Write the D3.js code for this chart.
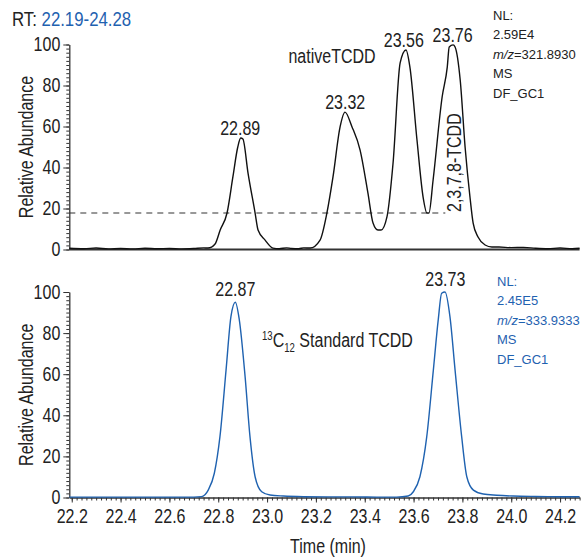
<!DOCTYPE html>
<html>
<head>
<meta charset="utf-8">
<script src="https://cdn.jsdelivr.net/npm/d3@7"></script>
<style>
  body { margin: 0; background: #fff; }
  svg text { font-family: "Liberation Sans", Arial, sans-serif; fill: #222; }
  .note { font-size: 13px; }
</style>
</head>
<body>
<svg id="chart" width="581" height="558"></svg>
<script>
// native TCDD trace (m/z 321.8930)
const nativeTime = [22.19, 22.25, 22.30, 22.35, 22.40, 22.45, 22.50, 22.55, 22.60, 22.65, 22.70, 22.74,
  22.758, 22.787, 22.808, 22.836, 22.860, 22.880, 22.892, 22.901, 22.922, 22.951, 22.963, 22.992, 23.024,
  23.05, 23.08, 23.10, 23.13, 23.15, 23.176, 23.217, 23.245, 23.270, 23.299, 23.319, 23.348, 23.381, 23.413,
  23.434, 23.454, 23.467, 23.491, 23.516, 23.545, 23.569, 23.585, 23.614, 23.639, 23.655, 23.663, 23.680,
  23.717, 23.738, 23.746, 23.762, 23.770, 23.791, 23.811, 23.831, 23.844, 23.864, 23.893, 23.921, 23.95,
  24.00, 24.05, 24.10, 24.15, 24.20, 24.25, 24.28];
const nativeAbund = [0.6, 0.4, 0.7, 0.3, 0.5, 0.3, 0.6, 0.4, 0.5, 0.3, 0.5, 0.8,
  0.7, 2.7, 9.5, 17.8, 35.4, 50, 54.4, 53.9, 37.3, 17.8, 9.5, 4.6, 0.7,
  0.4, 0.8, 0.5, 0.4, 0.8, 0.7, 4.6, 17.8, 35.4, 59.8, 67, 59.8, 48.5, 27.6,
  12.9, 9.5, 9.5, 15.9, 42.2, 91, 97.3, 89, 53.4, 25.6, 17.8, 17.8, 33.9,
  74.4, 89, 98.8, 99.8, 98.8, 82.7, 50, 25.6, 12.9, 6.1, 2.2, 1.2, 1.2,
  0.9, 1.0, 0.6, 0.4, 0.7, 0.4, 0.6];

// 13C12 standard trace (m/z 333.9333)
const stdTime = [22.19, 22.25, 22.30, 22.35, 22.40, 22.45, 22.50, 22.55, 22.60, 22.65, 22.70,
  22.731, 22.759, 22.784, 22.807, 22.832, 22.852, 22.870, 22.886, 22.910, 22.930, 22.951, 22.978, 23.012, 23.067,
  23.15, 23.25, 23.35, 23.45, 23.53,
  23.578, 23.599, 23.626, 23.654, 23.681, 23.701, 23.715, 23.729, 23.749, 23.770, 23.797, 23.818, 23.845,
  23.885, 23.940, 24.008, 24.10, 24.20, 24.28];
const stdAbund = [0.2, 0.2, 0.2, 0.2, 0.2, 0.2, 0.2, 0.2, 0.2, 0.2, 0.2,
  0.4, 3.6, 11.8, 29.6, 62, 88, 95, 86.7, 58.8, 29.6, 10.1, 2.8, 1.2, 0.7,
  0.4, 0.3, 0.3, 0.2, 0.2,
  0.7, 2.8, 10.1, 29.6, 62, 86.4, 99.4, 100, 88, 62, 29.6, 10.1, 3.6,
  1.7, 1.1, 0.7, 0.5, 0.4, 0.4];

const nativePeaks = [22.89, 23.32, 23.56, 23.76];
const stdPeaks = [22.87, 23.73];
const threshold = 17.8;          // dashed level in the top trace
const thresholdEnd = 23.73;
const timeDomain = [22.19, 24.28];
const timeTicks = [22.2, 22.4, 22.6, 22.8, 23.0, 23.2, 23.4, 23.6, 23.8, 24.0, 24.2];
const abundTicks = [0, 20, 40, 60, 80, 100];
const nativeNotes = ["NL:", "2.59E4", "=321.8930", "MS", "DF_GC1"];
const stdNotes = ["NL:", "2.45E5", "=333.9333", "MS", "DF_GC1"];

const blue = "#1f62b0";
const SQ = 0.8;   // condensed look: squeeze glyphs horizontally
const FS = "20px";
const svg = d3.select("#chart");

const x = d3.scaleLinear().domain(timeDomain).range([69.3, 579.6]);
const yTop = d3.scaleLinear().domain([0, 100]).range([249.5, 44.5]);
const yBot = d3.scaleLinear().domain([0, 100]).range([497.5, 292]);

// condensed text helper
function label(px, py, str, anchor, rot) {
  return svg.append("text")
    .attr("transform", `translate(${px},${py})` + (rot ? ` rotate(${rot})` : "") + ` scale(${SQ},1)`)
    .attr("text-anchor", anchor || "start")
    .style("font-size", FS)
    .text(str);
}

function yAxis(y) {
  // minor ticks every 2
  svg.append("g")
    .attr("transform", `translate(${x.range()[0]},0)`)
    .call(d3.axisLeft(y).tickValues(d3.range(0, 101, 2)).tickSize(3).tickFormat(""))
    .call(g => g.selectAll("line").attr("stroke", "#333"))
    .call(g => g.select(".domain").remove());
  svg.append("g")
    .attr("transform", `translate(${x.range()[0]},0)`)
    .call(d3.axisLeft(y).tickValues(abundTicks).tickSize(6).tickPadding(2).tickSizeOuter(0))
    .call(g => g.selectAll("line").attr("stroke", "#333"))
    .call(g => g.select(".domain").attr("stroke", "#333").attr("stroke-width", 1.3))
    .call(g => g.selectAll("text")
      .style("font-size", FS).attr("fill", "#222")
      .attr("x", -9 / SQ).attr("transform", `scale(${SQ},1)`));
  label(33, (y.range()[0] + y.range()[1]) / 2, "Relative Abundance", "middle", -90);
}

function trace(time, abund, y, color) {
  const pts = time.map((t, i) => [t, abund[i]]);
  svg.append("path")
    .datum(pts)
    .attr("fill", "none")
    .attr("stroke", color)
    .attr("stroke-width", 1.4)
    .attr("stroke-linejoin", "round")
    .attr("d", d3.line().x(d => x(d[0])).y(d => y(d[1])).curve(d3.curveMonotoneX));
  return pts;
}

function peakLabels(pts, peaks, y, gap) {
  peaks.forEach(p => {
    const near = pts.filter(d => Math.abs(d[0] - p) < 0.03);
    const top = d3.max(near, d => d[1]);
    label(x(p), y(top) - gap, p.toFixed(2), "middle");
  });
}

function notes(lines, x0, y0, color) {
  lines.forEach((s, i) => {
    const t = svg.append("text")
      .attr("class", "note")
      .attr("x", x0)
      .attr("y", y0 + i * 19.6)
      .style("fill", color);
    if (i === 2) {
      t.append("tspan").style("font-style", "italic").text("m/z");
    }
    t.append("tspan").text(s);
  });
}

// ---- top panel ----
svg.append("line")
  .attr("x1", x.range()[0]).attr("x2", x.range()[1])
  .attr("y1", yTop(0)).attr("y2", yTop(0))
  .attr("stroke", "#333").attr("stroke-width", 2);
yAxis(yTop);

svg.append("line")
  .attr("x1", x(timeDomain[0])).attr("x2", x(thresholdEnd))
  .attr("y1", yTop(threshold)).attr("y2", yTop(threshold))
  .attr("stroke", "#333").attr("stroke-width", 1.2)
  .attr("stroke-dasharray", "6,5");

const nativePts = trace(nativeTime, nativeAbund, yTop, "#111");
peakLabels(nativePts, nativePeaks, yTop, 3);

label(332, 63, "nativeTCDD", "middle");
label(461, 212, "2,3,7,8-TCDD", "start", -90);

const rt = label(12, 26, "", "start").style("font-size", "21px");
rt.append("tspan").text("RT:  ");
rt.append("tspan").style("fill", blue).text(timeDomain[0].toFixed(2) + "-" + timeDomain[1].toFixed(2));

notes(nativeNotes, 493, 19.5, "#222");

// ---- bottom panel ----
svg.append("g")
  .attr("transform", `translate(0,${yBot(0)})`)
  .call(d3.axisBottom(x).tickValues(d3.range(22.2, 24.28, 0.02)).tickSize(3).tickFormat(""))
  .call(g => g.selectAll("line").attr("stroke", "#333"))
  .call(g => g.select(".domain").remove());
svg.append("g")
  .attr("transform", `translate(0,${yBot(0)})`)
  .call(d3.axisBottom(x).tickValues(timeTicks).tickSize(5).tickPadding(6).tickSizeOuter(0).tickFormat(d3.format(".1f")))
  .call(g => g.selectAll("line").attr("stroke", "#333"))
  .call(g => g.select(".domain").attr("stroke", "#333").attr("stroke-width", 1.3))
  .call(g => g.selectAll("text")
    .style("font-size", FS).attr("fill", "#222")
    .attr("transform", `scale(${SQ},1)`));
yAxis(yBot);

const stdPts = trace(stdTime, stdAbund, yBot, blue);
peakLabels(stdPts, stdPeaks, yBot, 6);

const std = label(262, 347, "", "start");
std.append("tspan").style("font-size", "12px").attr("dy", -7).text("13");
std.append("tspan").attr("dy", 7).text("C");
std.append("tspan").style("font-size", "12px").attr("dy", 5).text("12");
std.append("tspan").attr("dy", -5).text(" Standard TCDD");

notes(stdNotes, 497, 285.5, blue);

label(328, 553, "Time (min)", "middle");
</script>
</body>
</html>
